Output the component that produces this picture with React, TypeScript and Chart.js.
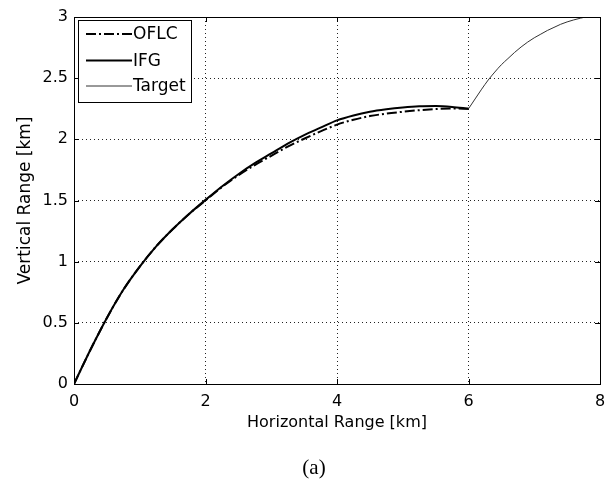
import React, { useEffect, useRef } from 'react';
import { Chart, registerables } from 'chart.js';

Chart.register(...registerables);

// ---- data ----
const xTickValues = [0, 2, 4, 6, 8];
const yTickValues = [0, 0.5, 1, 1.5, 2, 2.5, 3];

const seriesNames = ['OFLC', 'IFG', 'Target'];

const ifgX = [0, 0.25, 0.5, 0.75, 1.0, 1.25, 1.5, 1.75, 2.0, 2.25, 2.5, 2.75, 3.0, 3.25, 3.5, 3.75, 4.0, 4.25, 4.5, 4.75, 5.0, 5.25, 5.5, 5.75, 6.0];
const ifgY = [0, 0.28, 0.54, 0.77, 0.96, 1.125, 1.265, 1.39, 1.505, 1.615, 1.715, 1.805, 1.885, 1.965, 2.035, 2.095, 2.155, 2.195, 2.225, 2.245, 2.26, 2.27, 2.272, 2.265, 2.25];

const oflcX = [0, 0.25, 0.5, 0.75, 1.0, 1.25, 1.5, 1.75, 2.0, 2.25, 2.5, 2.75, 3.0, 3.25, 3.5, 3.75, 4.0, 4.25, 4.5, 4.75, 5.0, 5.25, 5.5, 5.75, 6.0];
const oflcY = [0, 0.28, 0.54, 0.77, 0.96, 1.125, 1.265, 1.39, 1.5, 1.61, 1.705, 1.79, 1.865, 1.94, 2.005, 2.065, 2.12, 2.16, 2.19, 2.21, 2.225, 2.238, 2.247, 2.252, 2.25];

const targetX = [6.0, 6.1, 6.2, 6.3, 6.4, 6.5, 6.6, 6.7, 6.8, 6.9, 7.0, 7.1, 7.2, 7.3, 7.4, 7.5, 7.6, 7.7, 7.78];
const targetY = [2.25, 2.33, 2.41, 2.485, 2.55, 2.61, 2.66, 2.71, 2.755, 2.795, 2.83, 2.86, 2.89, 2.915, 2.94, 2.96, 2.976, 2.99, 3.0];

const xLabel = 'Horizontal Range [km]';
const yLabel = 'Vertical Range [km]';
const caption = '(a)';

const FONT = "'DejaVu Sans', 'Liberation Sans', Arial, sans-serif";

const toPoints = (xs: number[], ys: number[]) => xs.map((x, i) => ({ x, y: ys[i] }));

const boxPlugin = {
  id: 'matlabBox',
  beforeDraw(chart: any) {
    const ctx = chart.ctx;
    ctx.save();
    ctx.fillStyle = '#fff';
    ctx.fillRect(0, 0, chart.width, chart.height);
    ctx.restore();
  },
  afterDatasetsDraw(chart: any) {
    const { ctx, chartArea } = chart;
    const { left, right, top, bottom } = chartArea;
    const xs = chart.scales.x;
    const ys = chart.scales.y;
    ctx.save();
    // box
    ctx.strokeStyle = '#000';
    ctx.lineWidth = 1;
    ctx.setLineDash([]);
    ctx.strokeRect(Math.round(left) + 0.5, Math.round(top) + 0.5, Math.round(right - left), Math.round(bottom - top));
    // inward ticks
    const tl = 5;
    ctx.beginPath();
    xTickValues.forEach((v) => {
      const px = Math.round(xs.getPixelForValue(v)) + 0.5;
      ctx.moveTo(px, bottom);
      ctx.lineTo(px, bottom - tl);
      ctx.moveTo(px, top);
      ctx.lineTo(px, top + tl);
    });
    yTickValues.forEach((v) => {
      const py = Math.round(ys.getPixelForValue(v)) + 0.5;
      ctx.moveTo(left, py);
      ctx.lineTo(left + tl, py);
      ctx.moveTo(right, py);
      ctx.lineTo(right - tl, py);
    });
    ctx.stroke();

    // legend
    const lx = Math.round(left) + 4;
    const ly = Math.round(top) + 3;
    const lw = 113;
    const lh = 82;
    ctx.fillStyle = '#fff';
    ctx.fillRect(lx, ly, lw, lh);
    ctx.strokeStyle = '#000';
    ctx.lineWidth = 1;
    ctx.strokeRect(lx + 0.5, ly + 0.5, lw, lh);
    const rows = [14, 40.5, 66];
    chart.data.datasets.forEach((ds: any, i: number) => {
      const y = ly + rows[i];
      ctx.beginPath();
      ctx.strokeStyle = ds.borderColor;
      ctx.lineWidth = ds.borderWidth;
      ctx.setLineDash(ds.borderDash || []);
      ctx.moveTo(lx + 8, y);
      ctx.lineTo(lx + 54, y);
      ctx.stroke();
      ctx.setLineDash([]);
      ctx.fillStyle = '#000';
      ctx.font = `17px ${FONT}`;
      ctx.textAlign = 'left';
      ctx.textBaseline = 'middle';
      ctx.fillText(ds.label, lx + 55, y + 1);
    });

    // caption
    ctx.fillStyle = '#000';
    ctx.font = "21px 'Liberation Serif', 'Times New Roman', serif";
    ctx.textAlign = 'center';
    ctx.textBaseline = 'middle';
    ctx.fillText(caption, 314, 468);
    ctx.restore();
  },
};

export default function App() {
  const ref = useRef<HTMLCanvasElement>(null);

  useEffect(() => {
    if (!ref.current) return;
    const chart = new Chart(ref.current, {
      type: 'line',
      data: {
        datasets: [
          {
            label: seriesNames[0],
            data: toPoints(oflcX, oflcY),
            borderColor: '#000',
            borderWidth: 2,
            borderDash: [10, 3, 2, 3],
            pointRadius: 0,
            fill: false,
            cubicInterpolationMode: 'monotone',
          },
          {
            label: seriesNames[1],
            data: toPoints(ifgX, ifgY),
            borderColor: '#000',
            borderWidth: 2,
            pointRadius: 0,
            fill: false,
            cubicInterpolationMode: 'monotone',
          },
          {
            label: seriesNames[2],
            data: toPoints(targetX, targetY),
            borderColor: '#333',
            borderWidth: 1,
            pointRadius: 0,
            fill: false,
            cubicInterpolationMode: 'monotone',
          },
        ],
      },
      options: {
        responsive: false,
        animation: false,
        devicePixelRatio: 1,
        layout: { padding: { left: 0, top: 17, right: 14, bottom: 0 } },
        plugins: {
          legend: { display: false },
          tooltip: { enabled: false },
        },
        scales: {
          x: {
            type: 'linear',
            min: 0,
            max: 8,
            afterFit: (s: any) => { s.height = 95; },
            afterBuildTicks: (s: any) => { s.ticks = xTickValues.map((v) => ({ value: v })); },
            grid: {
              color: '#222',
              lineWidth: 1,
              drawTicks: false,
            },
            border: { display: false, dash: [1, 3] },
            ticks: {
              color: '#000',
              font: { family: FONT, size: 16 },
              padding: 8,
              maxRotation: 0,
              callback: (v: any) => String(v),
            },
            title: {
              display: true,
              text: xLabel,
              color: '#000',
              font: { family: FONT, size: 16 },
              padding: { top: 0, bottom: 47 },
            },
          },
          y: {
            type: 'linear',
            min: 0,
            max: 3,
            afterFit: (s: any) => { s.width = 74; },
            afterBuildTicks: (s: any) => { s.ticks = yTickValues.map((v) => ({ value: v })); },
            grid: {
              color: '#222',
              lineWidth: 1,
              drawTicks: false,
            },
            border: { display: false, dash: [1, 3] },
            ticks: {
              color: '#000',
              font: { family: FONT, size: 16 },
              padding: 6,
              callback: (v: any) => String(v),
            },
            title: {
              display: true,
              text: yLabel,
              color: '#000',
              font: { family: FONT, size: 17 },
              padding: { top: 15, bottom: 0 },
            },
          },
        },
      } as any,
      plugins: [boxPlugin],
    });
    return () => chart.destroy();
  }, []);

  return (
    <div style={{ position: 'absolute', left: 0, top: 0, width: 614, height: 479, background: '#fff' }}>
      <canvas ref={ref} width={614} height={479} style={{ display: 'block' }} />
    </div>
  );
}
